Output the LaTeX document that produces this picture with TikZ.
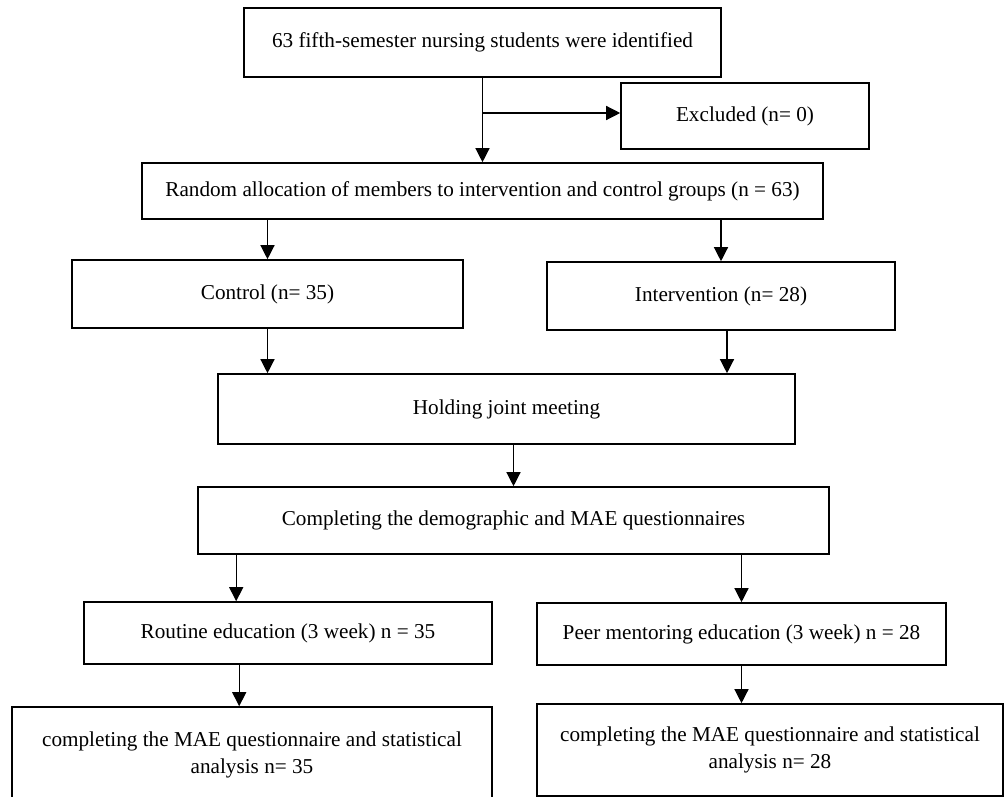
\documentclass[tikz,border=0pt]{standalone}
\usepackage{fontspec}
\setmainfont{Liberation Serif}
\usetikzlibrary{arrows.meta,positioning}
\tikzset{
  block/.style={draw, line width=1.6pt, inner sep=0pt, align=center, font=\fontsize{21.2}{26.7}\selectfont},
  arrow/.style={-{Triangle[length=14pt,width=14pt]}, line width=1.3pt}
}

\begin{document}
\begin{tikzpicture}[x=1pt,y=-1pt]
  \useasboundingbox (0,0) rectangle (1004,797);
  \node[block, minimum width=477pt, minimum height=69pt] (ident) at (482.5,42.5) {63 fifth-semester nursing students were identified};
  \node[block, minimum width=248pt, minimum height=66pt] (excl) at (745,116) {Excluded (n= 0)};
  \node[block, minimum width=681pt, minimum height=56pt] (alloc) at (482.5,191) {Random allocation of members to intervention and control groups (n = 63)};
  \node[block, minimum width=391pt, minimum height=68pt] (ctrl) at (267.5,294) {Control (n= 35)};
  \node[block, minimum width=348pt, minimum height=68pt] (interv) at (721,296) {Intervention (n= 28)};
  \node[block, minimum width=577pt, minimum height=70pt] (meet) at (506.5,409) {Holding joint meeting};
  \node[block, minimum width=631pt, minimum height=67pt] (quest) at (513.5,520.5) {Completing the demographic and MAE questionnaires};
  \node[block, minimum width=408pt, minimum height=62pt] (routine) at (288,633) {Routine education (3 week) n = 35};
  \node[block, minimum width=409pt, minimum height=62pt] (peer) at (741.5,634) {Peer mentoring education (3 week) n = 28};
  \node[block, minimum width=480pt, minimum height=96pt] (finctrl) at (252,755) {completing the MAE questionnaire and statistical\\analysis n= 35};
  \node[block, minimum width=466pt, minimum height=92pt] (finint) at (770,750) {completing the MAE questionnaire and statistical\\analysis n= 28};
  \coordinate (exclin) at ([yshift=3pt]excl.west);

  \draw[arrow] (ident.south) -- (alloc.north);
  \draw[arrow] (ident.south |- exclin) -- (exclin);
  \draw[arrow] (ctrl.north |- alloc.south) -- (ctrl.north);
  \draw[arrow] (interv.north |- alloc.south) -- (interv.north);
  \draw[arrow] (ctrl.south) -- (ctrl.south |- meet.north);
  \draw[arrow] ([xshift=6pt]interv.south) -- ([xshift=6pt]interv.south |- meet.north);
  \draw[arrow] (quest.north |- meet.south) -- (quest.north);
  \draw[arrow] ([xshift=39pt]quest.south west) -- ([xshift=39pt]quest.south west |- routine.north);
  \draw[arrow] (peer.north |- quest.south) -- (peer.north);
  \draw[arrow] ([xshift=156pt]routine.south west) -- ([xshift=156pt]routine.south west |- finctrl.north);
  \draw[arrow] (peer.south) -- (peer.south |- finint.north);
\end{tikzpicture}
\end{document}
